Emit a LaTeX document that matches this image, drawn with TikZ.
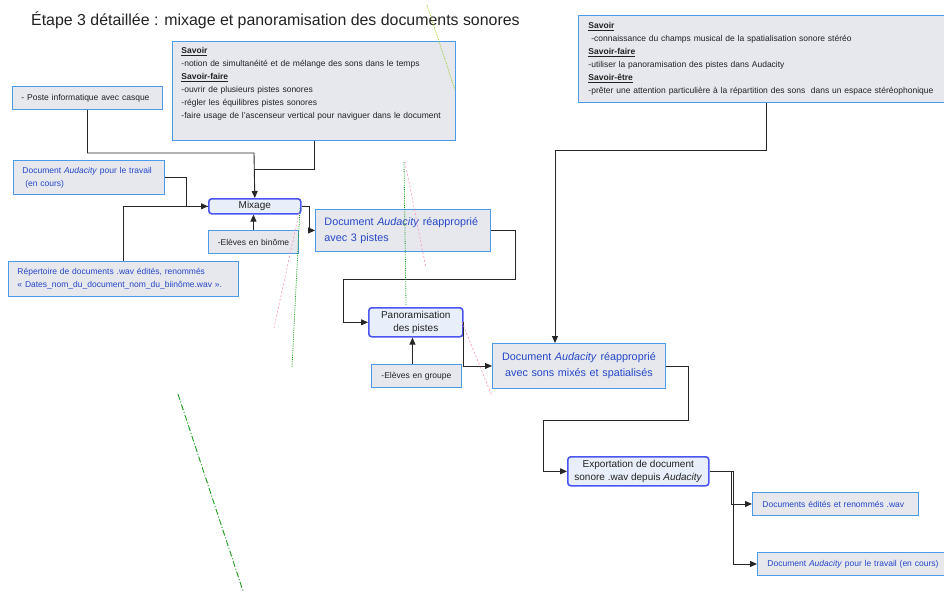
\documentclass[tikz,border=0pt]{standalone}
\usepackage{fontspec}
\setmainfont{Liberation Sans}
\usetikzlibrary{arrows.meta}
\definecolor{boxfill}{HTML}{E6E8EE}
\definecolor{boxdraw}{HTML}{4A9BEA}
\definecolor{procdraw}{HTML}{4B55F0}
\definecolor{procfill}{HTML}{E9EFFA}
\definecolor{textblue}{HTML}{2446C8}
\definecolor{txtdark}{HTML}{222222}
\definecolor{ygreen}{HTML}{9ACD32}
\definecolor{dgreen}{HTML}{1A9A1A}
\definecolor{spink}{HTML}{FF8FC0}
\tikzset{
  info/.style={draw=boxdraw, fill=boxfill, line width=0.9pt, rectangle, anchor=north west,
    inner xsep=9pt, inner ysep=2pt, align=left, text=txtdark,
    font=\fontsize{8.5}{13}\selectfont},
  infoblue/.style={info, text=textblue},
  bigblue/.style={info, text=textblue, font=\fontsize{10.8}{16}\selectfont},
  proc/.style={draw=procdraw, fill=procfill, line width=1.6pt, rounded corners=3pt,
    anchor=north west, inner sep=1pt, align=center, text=txtdark,
    font=\fontsize{10}{13}\selectfont},
  conn/.style={draw=black!85, line width=0.9pt},
  arr/.style={conn, -{Triangle[length=7pt,width=6pt]}},
}
\newcommand{\hd}[1]{\underline{\textbf{#1}}}
\begin{document}
\begin{tikzpicture}[x=1pt,y=-1pt]
\useasboundingbox (0,0) rectangle (944,592);

\node[anchor=west, font=\fontsize{15.9}{18}\selectfont, text=txtdark, inner sep=0pt] (title) at (31,20)
  {Étape 3 détaillée : mixage et panoramisation des documents sonores};

\node[info, minimum width=283pt, minimum height=99pt, text width=265pt] (savoir1) at (172,41)
  {\hd{Savoir}\\\mbox{-notion de simultanéité et de mélange des sons dans le temps}\\
   \hd{Savoir-faire}\\-ouvrir de plusieurs pistes sonores\\
   -régler les équilibres pistes sonores\\
   \mbox{-faire usage de l'ascenseur vertical pour naviguer dans le document}\rule[-16pt]{0pt}{16pt}};

\node[info, inner xsep=10pt, minimum width=366pt, minimum height=87pt, text width=346pt] (savoir2) at (578,15)
  {\hd{Savoir}\\\ -connaissance du champs musical de la spatialisation sonore stéréo\\
   \hd{Savoir-faire}\\-utiliser la panoramisation des pistes dans Audacity\\
   \hd{Savoir-être}\\\mbox{-prêter une attention particulière à la répartition des sons\ \ dans un espace stéréophonique}};

\node[info, minimum width=150pt, minimum height=23pt, text width=132pt] (poste) at (12,86)
  {\mbox{- Poste informatique avec casque}};

\node[infoblue, minimum width=151pt, minimum height=34pt, text width=133pt] (travail) at (13,160)
  {\mbox{Document \textit{Audacity} pour le travail}\\\ (en cours)};

\node[proc, minimum width=92pt, minimum height=15pt] (mix) at (208,198) {Mixage};

\node[info, inner xsep=2pt, align=center, minimum width=90pt, minimum height=23pt, text width=86pt] (binome) at (208,230)
  {-Elèves en binôme};

\node[infoblue, minimum width=230pt, minimum height=35pt, text width=212pt] (repert) at (8,261)
  {Répertoire de documents .wav édités, renommés\\\mbox{« Dates\_nom\_du\_document\_nom\_du\_biinôme.wav ».}};

\node[bigblue, minimum width=175pt, minimum height=42pt, text width=157pt] (doctrois) at (315,209)
  {\mbox{Document \textit{Audacity} réapproprié}\\avec 3 pistes};

\node[proc, minimum width=94pt, minimum height=29pt] (pano) at (368,307) {Panoramisation\\des pistes};

\node[info, inner xsep=2pt, align=center, minimum width=90pt, minimum height=23pt, text width=86pt] (groupe) at (371,364)
  {-Elèves en groupe};

\node[bigblue, align=center, inner xsep=4pt, minimum width=173pt, minimum height=45pt, text width=165pt] (docmix) at (492,343)
  {Document \textit{Audacity} réapproprié\\avec sons mixés et spatialisés};

\node[proc, minimum width=141pt, minimum height=29pt] (export) at (567,456)
  {Exportation de document\\sonore .wav depuis \textit{Audacity}};

\node[infoblue, inner xsep=10pt, minimum width=166pt, minimum height=23pt, text width=146pt] (edites) at (752,492)
  {\mbox{Documents édités et renommés .wav}};

\node[infoblue, inner xsep=10pt, minimum width=187pt, minimum height=23pt, text width=167pt] (encours) at (757,552)
  {\mbox{Document \textit{Audacity} pour le travail (en cours)}};

% junction coordinates
\coordinate (j1) at (254,153);
\coordinate (j2) at (254,169);
\coordinate (k1) at (343,279);
\coordinate (k2) at (555,150);
\coordinate (k3) at (543,420);

% connectors
\draw[arr] (poste.south) |- (j1) -- (mix.north);
\draw[conn] (savoir1.south) |- (j2);
\draw[arr] (travail.east) -- ++(22,0) |- (mix.west);
\draw[conn] (repert.north) |- (mix.west);
\draw[arr] (binome.north) -- (binome.north |- mix.south);
\draw[arr] (mix.east) -- ++(8,0) |- (doctrois.west);
\draw[arr] (doctrois.east) -- ++(25,0) |- (k1) |- (pano.west);
\draw[arr] ([xshift=-4pt]groupe.north) -- ([xshift=-4pt]groupe.north |- pano.south);
\draw[arr] (pano.east) |- (docmix.west);
\draw[arr] ([xshift=5pt]savoir2.south) |- (k2) -- (k2 |- docmix.north);
\draw[arr] (docmix.east) -- ++(23,0) |- (k3) |- (export.west);
\draw[arr] (export.east) -- ++(22,0) |- (edites.west);
\draw[arr] (export.east) -- ++(24,0) |- (encours.west);

% stray guide lines
\draw[ygreen, line width=0.8pt, densely dotted] (427,5) -- (455,90);
\draw[dgreen, line width=0.8pt, densely dotted] (404,162) -- (406,305);
\draw[spink, line width=0.6pt, dash pattern=on 2pt off 2pt] (405,162) -- (426,268);
\draw[spink, line width=0.6pt, dash pattern=on 2pt off 2pt] (462,322) -- (492,396);
\draw[dgreen, line width=0.8pt, densely dotted] (300,208) -- (292,367);
\draw[spink, line width=0.6pt, dash pattern=on 2pt off 2pt] (299,213) -- (274,328);
\draw[dgreen, line width=0.9pt, dash pattern=on 6pt off 2pt on 1pt off 2pt] (178,394) -- (243,591);
\end{tikzpicture}
\end{document}
